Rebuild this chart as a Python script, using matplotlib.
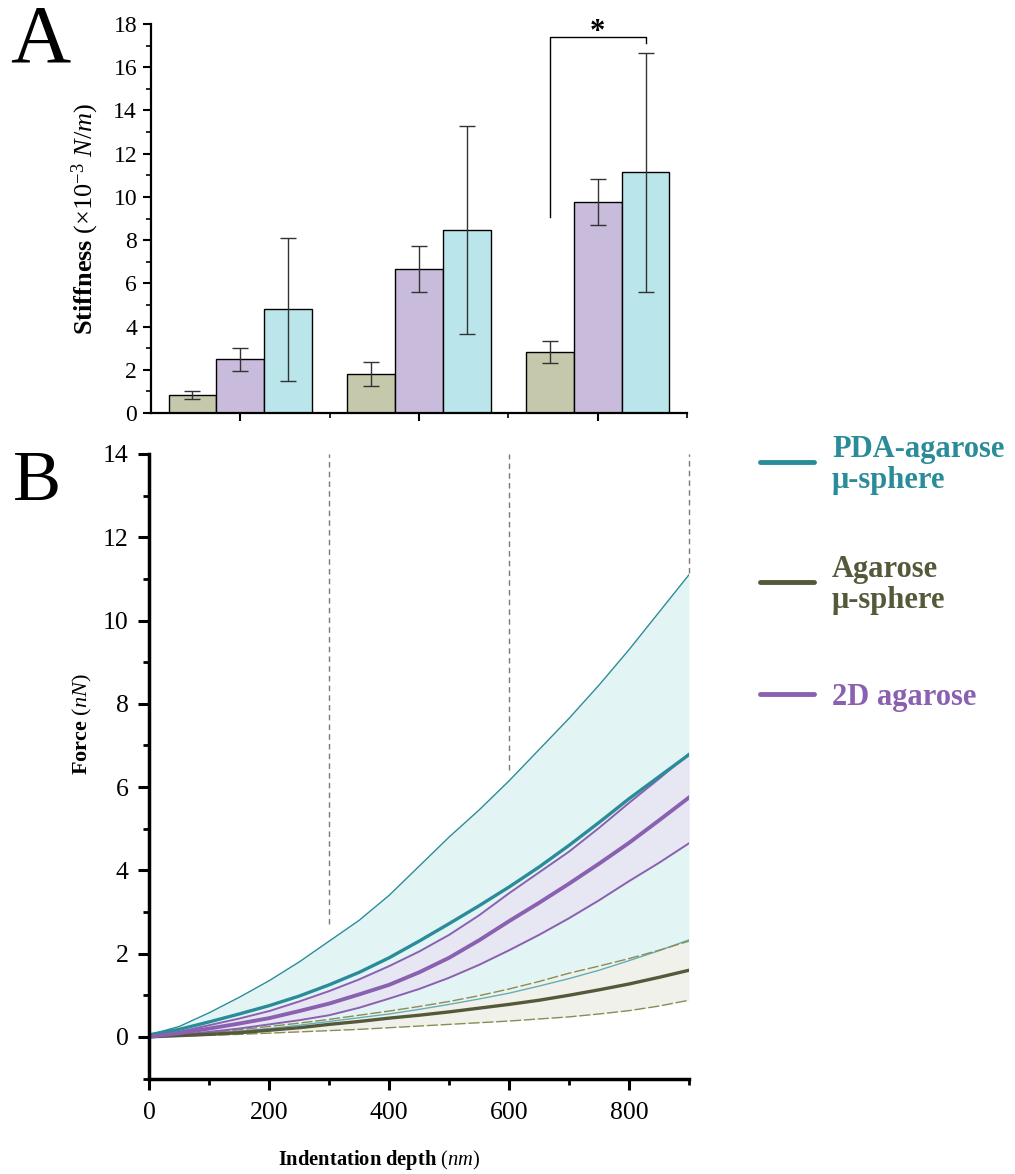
import matplotlib
matplotlib.use("Agg")
import matplotlib.pyplot as plt
from matplotlib.lines import Line2D
from matplotlib.ticker import MultipleLocator

plt.rcParams['font.family'] = ['Liberation Serif', 'DejaVu Serif']
plt.rcParams['mathtext.fontset'] = 'custom'
plt.rcParams['mathtext.rm'] = 'Liberation Serif'
plt.rcParams['mathtext.it'] = 'Liberation Serif:italic'
plt.rcParams['mathtext.bf'] = 'Liberation Serif:bold'

# ---- panel A data: stiffness (x10^-3 N/m) ----
groups = [1, 2, 3]
agarose_mean = [0.84, 1.81, 2.82]
agarose_err = [0.19, 0.55, 0.49]
flat_mean = [2.49, 6.65, 9.77]
flat_err = [0.53, 1.07, 1.05]
pda_mean = [4.79, 8.47, 11.13]
pda_err = [3.30, 4.83, 5.54]

# ---- panel B data: force (nN) vs indentation depth (nm) ----
depth = [0, 50, 100, 150, 200, 250, 300, 350, 400, 450,
         500, 550, 600, 650, 700, 750, 800, 850, 900]
pda_up = [0.05, 0.25, 0.58, 0.95, 1.35, 1.8, 2.3, 2.8, 3.4, 4.1,
          4.8, 5.45, 6.15, 6.9, 7.65, 8.45, 9.3, 10.2, 11.1]
pda_mid = [0.05, 0.18, 0.36, 0.55, 0.75, 0.98, 1.25, 1.55, 1.9, 2.3,
           2.72, 3.15, 3.6, 4.08, 4.6, 5.15, 5.72, 6.25, 6.78]
pda_lo = [0.02, 0.05, 0.08, 0.14, 0.2, 0.28, 0.37, 0.46, 0.55, 0.66,
          0.78, 0.91, 1.05, 1.22, 1.4, 1.6, 1.83, 2.07, 2.33]
flat_up = [0.0, 0.12, 0.28, 0.44, 0.62, 0.85, 1.1, 1.38, 1.7, 2.05,
           2.45, 2.92, 3.45, 3.95, 4.45, 5.02, 5.62, 6.2, 6.8]
flat_mid = [0.0, 0.09, 0.2, 0.32, 0.45, 0.62, 0.8, 1.02, 1.25, 1.55,
            1.9, 2.32, 2.78, 3.22, 3.68, 4.16, 4.66, 5.2, 5.75]
flat_lo = [0.0, 0.05, 0.12, 0.2, 0.3, 0.4, 0.52, 0.7, 0.92, 1.15,
           1.42, 1.73, 2.08, 2.45, 2.85, 3.28, 3.74, 4.18, 4.65]
aga_up = [0.02, 0.05, 0.1, 0.17, 0.25, 0.33, 0.42, 0.52, 0.62, 0.73,
          0.85, 0.99, 1.15, 1.33, 1.53, 1.7, 1.88, 2.08, 2.3]
aga_mid = [0.0, 0.03, 0.06, 0.1, 0.16, 0.22, 0.3, 0.37, 0.45, 0.52,
           0.6, 0.69, 0.78, 0.88, 1.0, 1.13, 1.27, 1.43, 1.6]
aga_lo = [0.0, 0.02, 0.04, 0.06, 0.09, 0.12, 0.15, 0.18, 0.22, 0.26,
          0.3, 0.34, 0.38, 0.43, 0.48, 0.55, 0.63, 0.74, 0.88]
guide_x = [300, 600, 900]
guide_from = [2.72, 6.42, 11.15]

c_aga_bar, c_flat_bar, c_pda_bar = '#c5c8ab', '#c9bbdb', '#bae5eb'
c_pda, c_aga, c_flat = '#2a8c98', '#55593a', '#8a60b0'

fig = plt.figure(figsize=(10.15, 11.74), dpi=100)
W, H = 1015, 1174

# ================= panel A =================
axA = fig.add_axes([151 / W, 1 - 413 / H, 536 / W, 389 / H])
bw = 0.268
x = list(groups)
ekw = dict(ecolor='#333333', elinewidth=1, capsize=5.5, capthick=1)
axA.bar([g - bw for g in x], agarose_mean, bw, yerr=agarose_err, color=c_aga_bar,
        edgecolor='black', linewidth=1, error_kw=ekw)
axA.bar(x, flat_mean, bw, yerr=flat_err, color=c_flat_bar,
        edgecolor='black', linewidth=1, error_kw=ekw)
axA.bar([g + bw for g in x], pda_mean, bw, yerr=pda_err, color=c_pda_bar,
        edgecolor='black', linewidth=1, error_kw=ekw)

# significance bracket
axA.plot([3 - bw, 3 - bw, 3 + bw, 3 + bw], [9.05, 17.4, 17.4, 17.1], color='black', lw=1)
axA.text(3, 17.25, '*', ha='center', va='baseline', fontsize=22, fontweight='bold')

axA.set_xlim(0.5, 3.5)
axA.set_ylim(0, 18)
axA.set_xticks(groups)
axA.set_xticklabels([])
axA.set_xticks([1.5, 2.5, 3.5], minor=True)
axA.yaxis.set_major_locator(MultipleLocator(2))
axA.yaxis.set_minor_locator(MultipleLocator(1))
for s in ['top', 'right']:
    axA.spines[s].set_visible(False)
for s in ['left', 'bottom']:
    axA.spines[s].set_linewidth(1.6)
axA.tick_params(which='major', direction='out', length=6, width=1.5, labelsize=17, pad=4)
axA.tick_params(which='minor', direction='out', length=3.5, width=1.2)
fig.text(85 / W, 1 - 219 / H, r'$\mathbf{Stiffness}\ \mathit{(×10^{-3}\ N/m)}$',
         rotation=90, ha='center', va='center', fontsize=19)
fig.text(40 / W, 1 - 62 / H, 'A', ha='center', va='baseline', fontsize=60)

# ================= panel B =================
axB = fig.add_axes([149.3 / W, 1 - 1078.5 / H, 539.7 / W, 624.5 / H])
axB.fill_between(depth, pda_lo, pda_up, color='#e3f4f5', lw=0)
axB.fill_between(depth, aga_lo, aga_up, color='#f0f1ea', lw=0)
axB.fill_between(depth, flat_lo, flat_up, color='#e6e7f3', lw=0)

axB.plot(depth, pda_up, color=c_pda, lw=1)
axB.plot(depth, pda_lo, color='#5fb0b8', lw=1)
axB.plot(depth, aga_up, color='#8a8d55', lw=1, dashes=(8, 2))
axB.plot(depth, aga_lo, color='#8a8d55', lw=1, dashes=(8, 2))
axB.plot(depth, flat_up, color=c_flat, lw=1.4)
axB.plot(depth, flat_lo, color=c_flat, lw=1.4)
axB.plot(depth, pda_mid, color=c_pda, lw=2.4)
axB.plot(depth, aga_mid, color=c_aga, lw=2.4)
axB.plot(depth, flat_mid, color=c_flat, lw=2.8)

for gx, gy in zip(guide_x, guide_from):
    axB.plot([gx, gx], [gy, 14], color='#7a7a7a', lw=1, dashes=(4, 3), clip_on=False)

axB.set_xlim(0, 900)
axB.set_ylim(-1, 14)
axB.xaxis.set_major_locator(MultipleLocator(200))
axB.xaxis.set_minor_locator(MultipleLocator(100))
axB.yaxis.set_major_locator(MultipleLocator(2))
axB.yaxis.set_minor_locator(MultipleLocator(1))
for s in ['top', 'right']:
    axB.spines[s].set_visible(False)
for s in ['left', 'bottom']:
    axB.spines[s].set_linewidth(2.5)
axB.tick_params(which='major', direction='out', length=8, width=2.2, labelsize=18.5)
axB.tick_params(which='minor', direction='out', length=4.5, width=2.0)
axB.tick_params(axis='x', which='major', pad=9)
axB.tick_params(axis='y', which='major', pad=7)
fig.text(82 / W, 1 - 724 / H, r'$\mathbf{Force}\ \mathit{(nN)}$',
         rotation=90, ha='center', va='center', fontsize=16)
fig.text(379 / W, 1 - 1160 / H, r'$\mathbf{Indentation\ depth}\ \mathit{(nm)}$',
         ha='center', va='center', fontsize=14.8)
fig.text(37 / W, 1 - 500 / H, 'B', ha='center', va='baseline', fontsize=52)

# ---- legend ----
legend_items = [('PDA-agarose\nμ-sphere', c_pda, 462),
                ('Agarose\nμ-sphere', c_aga, 582),
                ('2D agarose', c_flat, 694)]
for label, col, ypx in legend_items:
    fig.add_artist(Line2D([760 / W, 814 / W], [1 - ypx / H] * 2, color=col, lw=3.5,
                          solid_capstyle='round'))
    fig.text(832 / W, 1 - (ypx + 3) / H, label, color=col, fontsize=22,
             fontweight='bold', ha='left', va='center', linespacing=1.05)

fig.savefig('out.png', dpi=100)
